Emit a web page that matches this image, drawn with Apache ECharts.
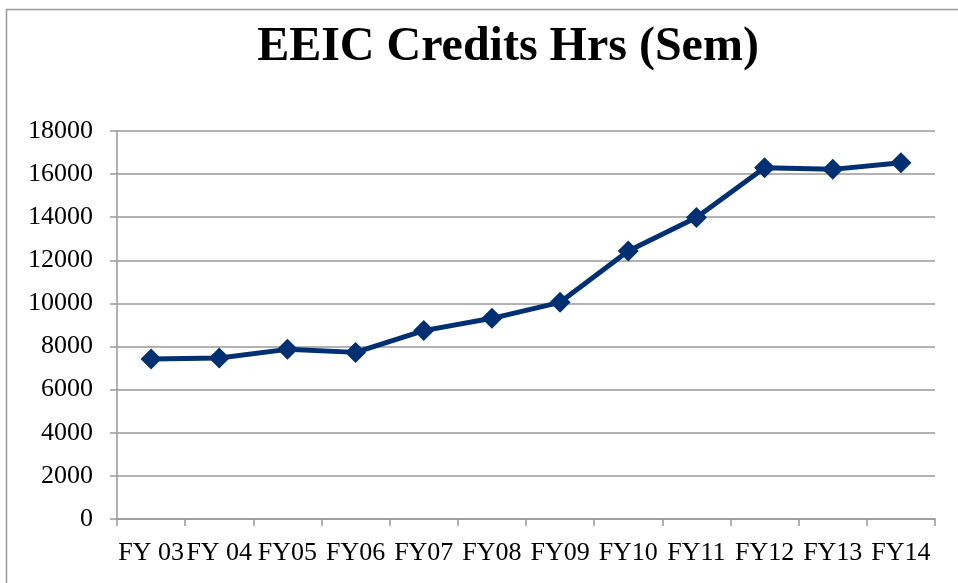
<!DOCTYPE html>
<html>
<head>
<meta charset="utf-8">
<script src="https://cdn.jsdelivr.net/npm/echarts@6/dist/echarts.min.js"></script>
<style>
html,body{margin:0;padding:0;background:#fff;}
#main{width:958px;height:583px;}
</style>
</head>
<body>
<div id="main"></div>
<script>
const categories = ['FY 03','FY 04','FY05','FY06','FY07','FY08','FY09','FY10','FY11','FY12','FY13','FY14'];
const creditHours = [7420, 7470, 7870, 7730, 8740, 9310, 10050, 12430, 13990, 16300, 16220, 16530];
const yTicks = { min: 0, max: 18000, interval: 2000 };

const chart = echarts.init(document.getElementById('main'));
const serif = '"Liberation Serif", "Times New Roman", serif';
chart.setOption({
  animation: false,
  backgroundColor: '#fff',
  graphic: [{
    type: 'rect',
    shape: { x: 6.5, y: 9.5, width: 1000, height: 1000 },
    style: { fill: 'none', stroke: '#999', lineWidth: 1.5 },
    silent: true
  }],
  title: {
    text: 'EEIC Credits Hrs (Sem)',
    left: 503, top: 19, textAlign: 'center',
    textStyle: { fontFamily: serif, fontSize: 48, fontWeight: 'bold', color: '#000' }
  },
  grid: { left: 117, right: 23, top: 131, bottom: 64, containLabel: false },
  xAxis: {
    type: 'category',
    data: categories,
    boundaryGap: true,
    axisLine: { lineStyle: { color: '#999', width: 1.5 } },
    axisTick: { show: true, length: 7, lineStyle: { color: '#999', width: 1.5 } },
    axisLabel: { fontFamily: serif, fontSize: 26, color: '#000', margin: 21, interval: 0 }
  },
  yAxis: {
    type: 'value',
    min: yTicks.min, max: yTicks.max, interval: yTicks.interval,
    axisLine: { show: true, lineStyle: { color: '#999', width: 1.5 } },
    axisTick: { show: true, length: 7, lineStyle: { color: '#999', width: 1.5 } },
    splitLine: { lineStyle: { color: '#999', width: 1.5 } },
    axisLabel: { fontFamily: serif, fontSize: 26, color: '#000', margin: 24, formatter: v => String(v) }
  },
  series: [{
    type: 'line',
    data: creditHours,
    symbol: 'diamond',
    symbolSize: [21, 21],
    showAllSymbol: true,
    lineStyle: { color: '#003071', width: 5 },
    itemStyle: { color: '#003071' }
  }]
});
</script>
</body>
</html>
